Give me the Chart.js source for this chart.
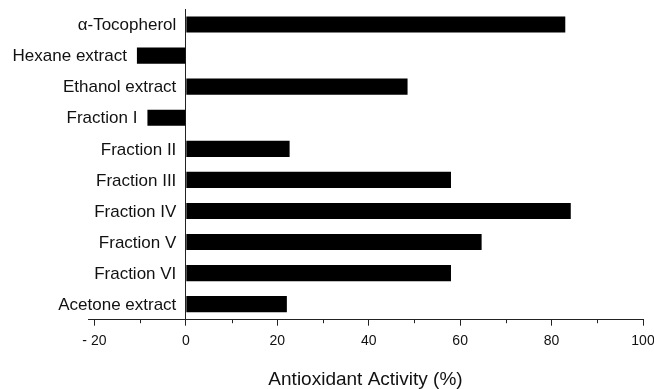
<!DOCTYPE html>
<html>
<head>
<meta charset="utf-8">
<script src="https://cdn.jsdelivr.net/npm/chart.js@4"></script>
<style>
  html, body { margin: 0; padding: 0; background: #fff; }
  canvas { display: block; }
</style>
</head>
<body>
<canvas id="chart" width="654" height="389"></canvas>
<script>
// Samples, top to bottom
const categories = [
  'α-Tocopherol', 'Hexane extract', 'Ethanol extract', 'Fraction I', 'Fraction II',
  'Fraction III', 'Fraction IV', 'Fraction V', 'Fraction VI', 'Acetone extract'
];
// Antioxidant activity (%)
const activity = [83.0, -10.7, 48.5, -8.4, 22.7, 58.0, 84.2, 64.7, 58.0, 22.1];
// Axis ticks
const majorTicks = [-20, 0, 20, 40, 60, 80, 100];
const tickLabels = ['- 20', '0', '20', '40', '60', '80', '100'];
const minorTicks = [-10, 10, 30, 50, 70, 90];

const FONT = '"Liberation Sans", Arial, Helvetica, sans-serif';
const INK = '#111';

// Category names sit just left of where each bar begins
const barLabels = {
  id: 'barLabels',
  afterDatasetsDraw(chart) {
    const ctx = chart.ctx;
    const meta = chart.getDatasetMeta(0);
    ctx.save();
    ctx.font = '17px ' + FONT;
    ctx.fillStyle = INK;
    ctx.textAlign = 'right';
    ctx.textBaseline = 'middle';
    meta.data.forEach((bar, i) => {
      const start = Math.min(bar.x, bar.base);
      ctx.fillText(categories[i], start - 10, bar.y + 1);
    });
    ctx.restore();
  }
};

// Short unlabelled ticks between the numbered ones
const minorTickMarks = {
  id: 'minorTickMarks',
  afterDraw(chart) {
    const xs = chart.scales.x;
    const ctx = chart.ctx;
    ctx.save();
    ctx.strokeStyle = '#222';
    ctx.lineWidth = 1;
    ctx.beginPath();
    minorTicks.forEach(v => {
      const px = Math.round(xs.getPixelForValue(v)) + 0.5;
      ctx.moveTo(px, xs.top);
      ctx.lineTo(px, xs.top + 3.5);
    });
    ctx.stroke();
    ctx.restore();
  }
};

new Chart(document.getElementById('chart'), {
  type: 'bar',
  data: {
    labels: categories,
    datasets: [{
      data: activity,
      backgroundColor: '#000',
      borderWidth: 0,
      barPercentage: 0.52,
      categoryPercentage: 1.0
    }]
  },
  options: {
    indexAxis: 'y',
    responsive: false,
    animation: false,
    events: [],
    layout: { padding: { left: 88, right: 11, top: 9, bottom: 0 } },
    plugins: {
      legend: { display: false },
      tooltip: { enabled: false }
    },
    scales: {
      x: {
        type: 'linear',
        min: -21.4,
        max: 100,
        afterBuildTicks: scale => { scale.ticks = majorTicks.map(v => ({ value: v })); },
        // let the end labels overhang the plot edges
        afterFit: scale => { scale.paddingLeft = 0; scale.paddingRight = 0; },
        ticks: {
          callback: (value, index) => tickLabels[index],
          font: { family: FONT, size: 14 },
          color: INK,
          padding: 7,
          maxRotation: 0,
          autoSkip: false
        },
        grid: { drawOnChartArea: false, drawTicks: true, tickLength: 6, color: '#222' },
        border: { display: true, color: '#222', width: 1 },
        title: {
          display: true,
          text: 'Antioxidant Activity (%)',
          font: { family: FONT, size: 19, lineHeight: 1.0 },
          color: INK,
          padding: { top: 13.5, bottom: 0 }
        }
      },
      y: {
        type: 'category',
        position: { x: 0 },
        ticks: { display: false },
        grid: { display: false, drawTicks: false },
        border: { display: true, color: '#222', width: 1 }
      }
    }
  },
  plugins: [barLabels, minorTickMarks]
});
</script>
</body>
</html>
